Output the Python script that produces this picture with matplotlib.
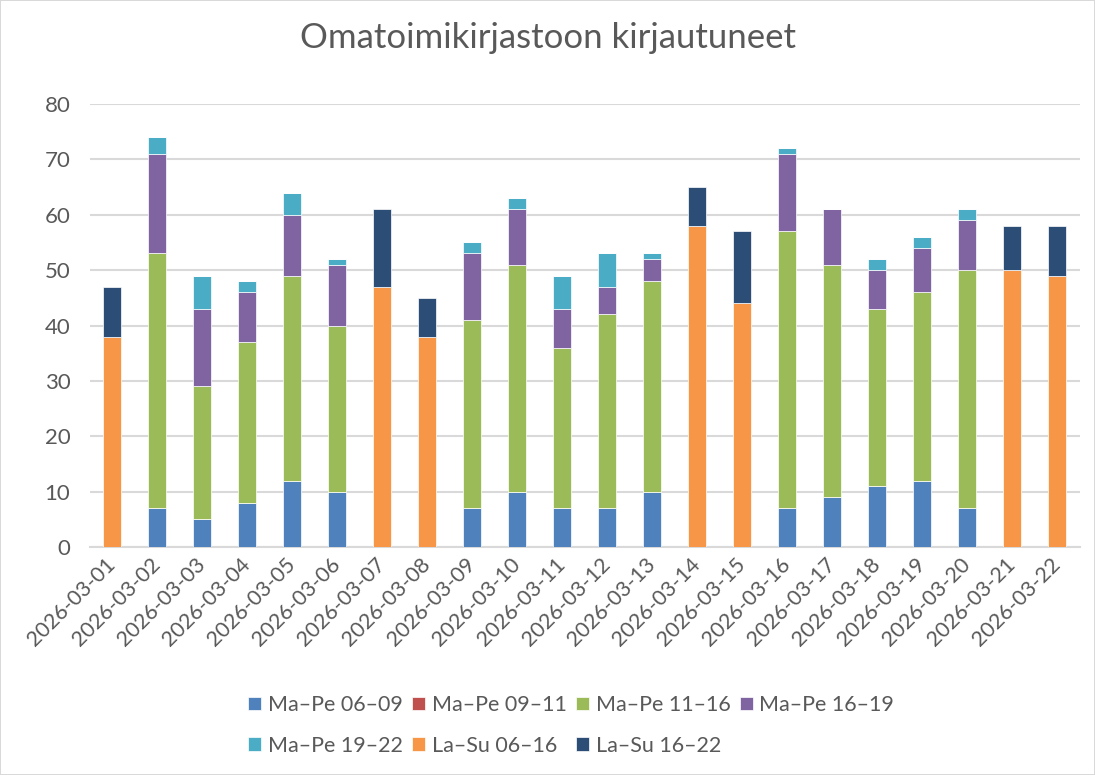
import numpy as np
import matplotlib
matplotlib.use("Agg")
import matplotlib.pyplot as plt

# päivät ja aikavälit
dates = ["2026-03-%02d" % d for d in range(1, 23)]
series_names = ["Ma–Pe 06–09", "Ma–Pe 09–11", "Ma–Pe 11–16", "Ma–Pe 16–19",
                "Ma–Pe 19–22", "La–Su 06–16", "La–Su 16–22"]
colors = ["#4F81BD", "#C0504D", "#9BBB59", "#8064A2", "#4BACC6", "#F79646", "#2C4D75"]

mape_06_09 = [0, 7, 5, 8, 12, 10, 0, 0, 7, 10, 7, 7, 10, 0, 0, 7, 9, 11, 12, 7, 0, 0]
mape_09_11 = [0] * 22
mape_11_16 = [0, 46, 24, 29, 37, 30, 0, 0, 34, 41, 29, 35, 38, 0, 0, 50, 42, 32, 34, 43, 0, 0]
mape_16_19 = [0, 18, 14, 9, 11, 11, 0, 0, 12, 10, 7, 5, 4, 0, 0, 14, 10, 7, 8, 9, 0, 0]
mape_19_22 = [0, 3, 6, 2, 4, 1, 0, 0, 2, 2, 6, 6, 1, 0, 0, 1, 0, 2, 2, 2, 0, 0]
lasu_06_16 = [38, 0, 0, 0, 0, 0, 47, 38, 0, 0, 0, 0, 0, 58, 44, 0, 0, 0, 0, 0, 50, 49]
lasu_16_22 = [9, 0, 0, 0, 0, 0, 14, 7, 0, 0, 0, 0, 0, 7, 13, 0, 0, 0, 0, 0, 8, 9]

series = [mape_06_09, mape_09_11, mape_11_16, mape_16_19, mape_19_22, lasu_06_16, lasu_16_22]

plt.rcParams["font.family"] = ["Lato", "DejaVu Sans"]
text_color = "#595959"
grid_color = "#d9d9d9"

fig = plt.figure(figsize=(10.95, 7.75), dpi=100, linewidth=1.2, edgecolor=grid_color)
ax = fig.add_axes([0.082, 0.294, 0.904, 0.572])

x = np.arange(len(dates))
bottom = np.zeros(len(dates))
handles = []
for name, vals, col in zip(series_names, series, colors):
    vals = np.array(vals, dtype=float)
    h = ax.bar(x, vals, width=0.4, bottom=bottom, color=col, edgecolor="white",
               linewidth=0.5, label=name, zorder=3)
    handles.append(h)
    bottom += vals

ax.set_xlim(-0.5, len(dates) - 0.5)
ax.set_ylim(0, 80)
ax.set_yticks(range(0, 81, 10))
ax.yaxis.grid(True, color=grid_color, linewidth=1.5, zorder=0)
ax.set_axisbelow(True)
for s in ["top", "right", "left"]:
    ax.spines[s].set_visible(False)
ax.spines["bottom"].set_color(grid_color)
ax.spines["bottom"].set_linewidth(1.5)
ax.tick_params(length=0, colors=text_color, labelsize=16)
ax.tick_params(axis="y", pad=14)
ax.set_xticks(x)
ax.set_xticklabels(dates, rotation=45, ha="right", va="center", rotation_mode="anchor")
ax.tick_params(axis="x", labelsize=15.5, pad=10)

fig.suptitle("Omatoimikirjastoon kirjautuneet", y=0.972, fontsize=25, color=text_color)

# legendan järjestys rivi kerrallaan
order = [0, 4, 1, 5, 2, 6, 3]
fig.legend([handles[i] for i in order], [series_names[i] for i in order],
           ncol=4, loc="upper left", bbox_to_anchor=(0.217, 0.117), frameon=False,
           fontsize=15.5, labelcolor=text_color, handlelength=0.6, handleheight=0.6,
           handletextpad=0.3, columnspacing=0.45, labelspacing=0.95, borderpad=0)

fig.savefig("out.png", dpi=100)
